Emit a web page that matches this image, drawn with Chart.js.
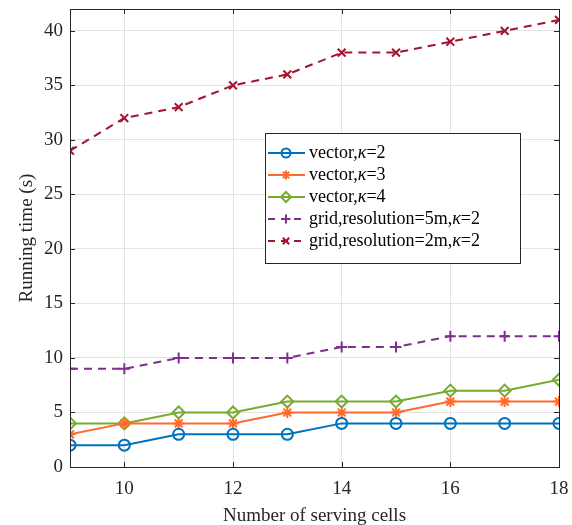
<!DOCTYPE html>
<html>
<head>
<meta charset="utf-8">
<script src="https://cdn.jsdelivr.net/npm/chart.js@4.4.1/dist/chart.umd.min.js"></script>
<style>
  html, body { margin: 0; padding: 0; background: #fff; }
  #wrap { width: 572px; height: 525px; }
</style>
</head>
<body>
<div id="wrap"><canvas id="timeChart" width="572" height="525"></canvas></div>
<script>
// Data
const servingCells = [9, 10, 11, 12, 13, 14, 15, 16, 17, 18];
const vectorK2 = [2, 2, 3, 3, 3, 4, 4, 4, 4, 4];
const vectorK3 = [3, 4, 4, 4, 5, 5, 5, 6, 6, 6];
const vectorK4 = [4, 4, 5, 5, 6, 6, 6, 7, 7, 8];
const grid5m = [9, 9, 10, 10, 10, 11, 11, 12, 12, 12];
const grid2m = [29, 32, 33, 35, 36, 38, 38, 39, 40, 41];
const xTicks = [10, 12, 14, 16, 18];
const yTicks = [0, 5, 10, 15, 20, 25, 30, 35, 40];

const FONT = "'Liberation Serif', 'DejaVu Serif', serif";
const AXIS_COLOR = "#262626";

function pts(ys) {
  return servingCells.map((x, i) => ({ x: x, y: ys[i] }));
}

function series(label, ys, color, style, dashed) {
  return {
    label: label,
    data: pts(ys),
    borderColor: color,
    backgroundColor: color,
    borderWidth: 2,
    borderDash: dashed ? [8, 6] : [],
    pointStyle: style,
    pointRadius: style === "rectRot" ? 6 : 5.5,
    pointBorderWidth: 2,
    pointBackgroundColor: "transparent",
    pointBorderColor: color,
    tension: 0,
    fill: false,
  };
}

// Box, inward ticks and legend drawn like the MATLAB original
const boxPlugin = {
  id: "boxPlugin",
  afterDraw(chart) {
    const { ctx, chartArea: a, scales } = chart;
    ctx.save();
    ctx.strokeStyle = AXIS_COLOR;
    ctx.lineWidth = 1;
    ctx.strokeRect(a.left + 0.5, a.top + 0.5, a.right - a.left, a.bottom - a.top);
    ctx.beginPath();
    xTicks.forEach((t) => {
      const px = Math.round(scales.x.getPixelForValue(t)) + 0.5;
      ctx.moveTo(px, a.bottom); ctx.lineTo(px, a.bottom - 5);
      ctx.moveTo(px, a.top); ctx.lineTo(px, a.top + 5);
    });
    yTicks.forEach((t) => {
      const py = Math.round(scales.y.getPixelForValue(t)) + 0.5;
      ctx.moveTo(a.left, py); ctx.lineTo(a.left + 5, py);
      ctx.moveTo(a.right, py); ctx.lineTo(a.right - 5, py);
    });
    ctx.stroke();

    // legend
    const lx = 265, ly = 133, lw = 255, lh = 130;
    ctx.fillStyle = "#fff";
    ctx.fillRect(lx, ly, lw, lh);
    ctx.strokeRect(lx + 0.5, ly + 0.5, lw, lh);
    chart.data.datasets.forEach((ds, i) => {
      const y = ly + 20 + i * 22;
      ctx.strokeStyle = ds.borderColor;
      ctx.lineWidth = 2;
      ctx.setLineDash(ds.borderDash.length ? [7, 6] : []);
      ctx.beginPath();
      ctx.moveTo(lx + 3, y);
      ctx.lineTo(lx + 40, y);
      ctx.stroke();
      ctx.setLineDash([]);
      ctx.fillStyle = "rgba(0,0,0,0)";
      Chart.helpers.drawPoint(ctx, {
        pointStyle: ds.pointStyle, rotation: 0, radius: ds.pointRadius - 1, borderWidth: 2,
      }, lx + 21, y);
      ctx.fillStyle = "#000";
      ctx.textBaseline = "middle";
      let tx = lx + 44;
      const parts = ds.label.split("κ");
      parts.forEach((p, j) => {
        ctx.font = "18px " + FONT;
        ctx.fillText(p, tx, y);
        tx += ctx.measureText(p).width;
        if (j < parts.length - 1) {
          ctx.font = "italic 18px " + FONT;
          ctx.fillText("κ", tx, y);
          tx += ctx.measureText("κ").width;
        }
      });
    });
    ctx.restore();
  },
};

function initTimeChart() {
  const ctx = document.getElementById("timeChart");
  new Chart(ctx, {
    type: "line",
    data: {
      datasets: [
        series("vector,κ=2", vectorK2, "#0072BD", "circle", false),
        series("vector,κ=3", vectorK3, "#FF6B2C", "star", false),
        series("vector,κ=4", vectorK4, "#77AC30", "rectRot", false),
        series("grid,resolution=5m,κ=2", grid5m, "#7E2F8E", "cross", true),
        series("grid,resolution=2m,κ=2", grid2m, "#A2142F", "crossRot", true),
      ],
    },
    options: {
      responsive: false,
      animation: false,
      layout: { padding: { top: 9, right: 13, left: 0, bottom: 0 } },
      plugins: { legend: { display: false }, tooltip: { enabled: false } },
      scales: {
        x: {
          type: "linear",
          min: 9,
          max: 18,
          afterBuildTicks: (s) => { s.ticks = xTicks.map((v) => ({ value: v })); },
          afterFit: (s) => { s.height = 58; s.paddingLeft = 0; s.paddingRight = 0; },
          grid: { color: "#e3e3e3", drawTicks: false },
          border: { display: false },
          ticks: { color: "#262626", padding: 11, font: { family: FONT, size: 19 } },
          title: {
            display: true,
            text: "Number of serving cells",
            color: "#262626",
            padding: { top: 0, bottom: -2 },
            font: { family: FONT, size: 19 },
          },
        },
        y: {
          min: 0,
          max: 42,
          afterBuildTicks: (s) => { s.ticks = yTicks.map((v) => ({ value: v })); },
          afterFit: (s) => { s.width = 70; s.paddingTop = 0; s.paddingBottom = 0; },
          grid: { color: "#e3e3e3", drawTicks: false },
          border: { display: false },
          ticks: { color: "#262626", padding: 7, font: { family: FONT, size: 19 } },
          title: {
            display: true,
            text: "Running time (s)",
            color: "#262626",
            padding: { top: 16, bottom: 0 },
            font: { family: FONT, size: 19 },
          },
        },
      },
    },
    plugins: [boxPlugin],
  });
}

document.addEventListener("DOMContentLoaded", initTimeChart);
</script>
</body>
</html>
